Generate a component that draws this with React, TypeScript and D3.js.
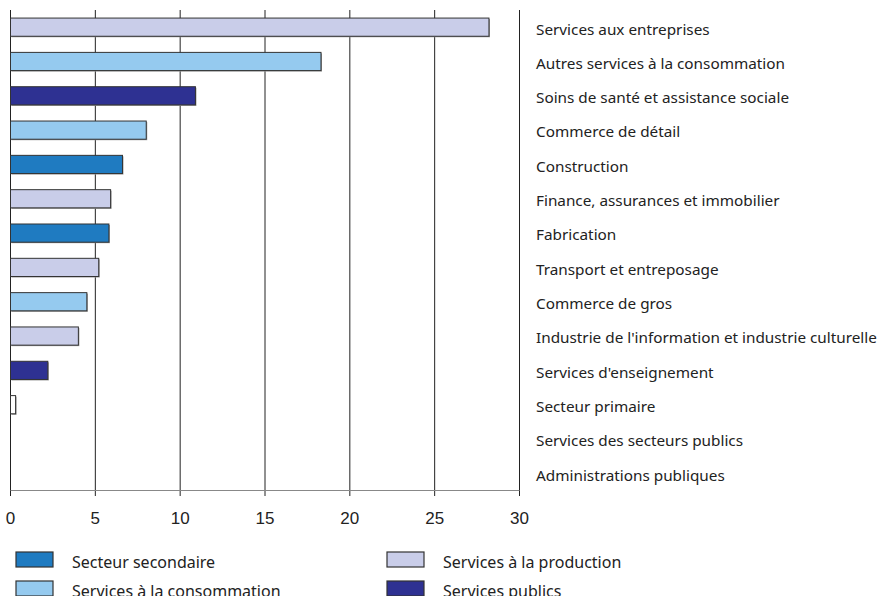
import React from "react";
import * as d3 from "d3";

const categories = [
  "Services aux entreprises",
  "Autres services à la consommation",
  "Soins de santé et assistance sociale",
  "Commerce de détail",
  "Construction",
  "Finance, assurances et immobilier",
  "Fabrication",
  "Transport et entreposage",
  "Commerce de gros",
  "Industrie de l'information et industrie culturelle",
  "Services d'enseignement",
  "Secteur primaire",
  "Services des secteurs publics",
  "Administrations publiques",
];
const values = [28.2, 18.3, 10.9, 8.0, 6.6, 5.9, 5.8, 5.2, 4.5, 4.0, 2.2, 0.3, 0, 0];
const groups = [
  "production", "consommation", "publics", "consommation", "secondaire", "production",
  "secondaire", "production", "consommation", "production", "publics", "primaire", "publics", "publics",
];
const xTicks = [0, 5, 10, 15, 20, 25, 30];
const legendKeys = ["secondaire", "production", "consommation", "publics"];
const legendLabels = [
  "Secteur secondaire",
  "Services à la production",
  "Services à la consommation",
  "Services publics",
];

const colors: Record<string, string> = {
  secondaire: "#1F7BC1",
  production: "#C9CDE9",
  consommation: "#95CAEF",
  publics: "#2E3192",
  primaire: "#FFFFFF",
};

export default function App() {
  const W = 877, H = 596;
  const x = d3.scaleLinear().domain([0, 30]).range([10.5, 519.5]);
  const y = d3.scaleBand().domain(categories).range([10, 490.5]).paddingInner(0.47).paddingOuter(0.235);
  const labelFont = "'Noto Sans', sans-serif";
  return (
    <svg width={W} height={H} style={{ position: "absolute", left: 0, top: 0, background: "#fff" }}>
      {xTicks.map((t) => (
        <line key={"g" + t} x1={x(t)} x2={x(t)} y1={10} y2={496} stroke="#222" strokeWidth={1} />
      ))}
      <line x1={x(0)} x2={x(30)} y1={490.5} y2={490.5} stroke="#888" strokeWidth={1.2} />
      {categories.map((c, i) => {
        const v = values[i];
        if (v <= 0) return null;
        const yy = y(c)!;
        const w = x(v) - x(0);
        return (
          <g key={c}>
            <rect x={x(0) + 1} y={yy + 1} width={w} height={y.bandwidth()} fill="#999" />
            <rect x={x(0)} y={yy} width={w} height={y.bandwidth()} fill={colors[groups[i]]} stroke="#333" strokeWidth={1} />
          </g>
        );
      })}
      {xTicks.map((t) => (
        <text key={"t" + t} x={x(t)} y={524} textAnchor="middle" fontFamily="'Liberation Sans', Arial, sans-serif" fontSize={17} fill="#222">
          {t}
        </text>
      ))}
      {categories.map((c) => (
        <text key={"l" + c} x={536} y={y(c)! + y.bandwidth() / 2 + 2} dy="0.35em" fontFamily={labelFont} fontSize={15.3} fill="#222">
          {c}
        </text>
      ))}
      {legendKeys.map((k, i) => {
        const col = i % 2;
        const row = Math.floor(i / 2);
        const bx = col === 0 ? 16 : 387;
        const by = 552 + row * 29;
        return (
          <g key={k}>
            <rect x={bx} y={by} width={37} height={15} fill={colors[k]} stroke="#333" strokeWidth={1.2} />
            <text x={bx + 56} y={by + 10} dy="0.35em" fontFamily={labelFont} fontSize={16} fill="#222">
              {legendLabels[i]}
            </text>
          </g>
        );
      })}
    </svg>
  );
}
